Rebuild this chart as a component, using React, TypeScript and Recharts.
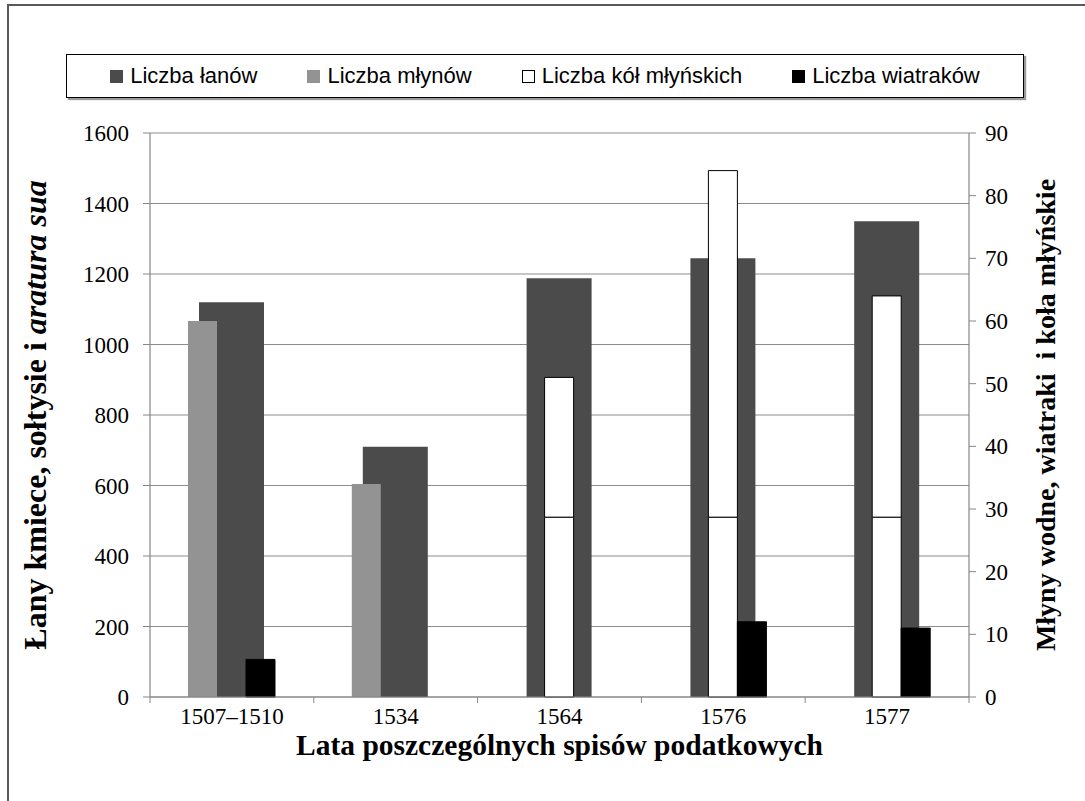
import React from 'react';
import { BarChart, Bar, XAxis, YAxis, CartesianGrid, Legend, Label } from 'recharts';

const lata = ['1507–1510', '1534', '1564', '1576', '1577'];
const lany = [1120, 710, 1188, 1245, 1350];
const mlyny = [60, 34, null, null, null];
const kolaDol = [null, null, 28.7, 28.7, 28.7];
const kolaGora = [null, null, 22.3, 55.3, 35.3];
const wiatraki = [6, null, null, 12, 11];

const nazwySerii = ['Liczba łanów', 'Liczba młynów', 'Liczba kół młyńskich', 'Liczba wiatraków'];
const lewyTicks = [0, 200, 400, 600, 800, 1000, 1200, 1400, 1600];
const prawyTicks = [0, 10, 20, 30, 40, 50, 60, 70, 80, 90];

const data = lata.map((rok, i) => ({
  rok,
  lany: lany[i],
  mlyny: mlyny[i],
  kolaDol: kolaDol[i],
  kolaGora: kolaGora[i],
  wiatraki: wiatraki[i],
}));

const SERIF = '"Liberation Serif", "Times New Roman", serif';
const SANS = '"Liberation Sans", Arial, sans-serif';
const OS = '#868686';

const TickX = (props: any) => {
  const { x, y, payload, index } = props;
  const pol = payload.offset ?? 0;
  return (
    <g>
      <line x1={x - pol} x2={x - pol} y1={y} y2={y + 6} stroke={OS} />
      {index === lata.length - 1 && <line x1={x + pol} x2={x + pol} y1={y} y2={y + 6} stroke={OS} />}
      <text x={x} y={y + 27} textAnchor="middle" fontFamily={SERIF} fontSize={23} fill="#000">
        {payload.value}
      </text>
    </g>
  );
};

const TytulLewy = ({ viewBox }: any) => {
  const cx = viewBox.x - 55;
  const cy = viewBox.y + viewBox.height / 2;
  return (
    <text x={cx} y={cy} transform={`rotate(-90, ${cx}, ${cy})`} textAnchor="middle" dominantBaseline="central"
      fontFamily={SERIF} fontWeight="bold" fontSize={32} fill="#000">
      Łany kmiece, sołtysie i{' '}
      <tspan fontStyle="italic">aratura sua</tspan>
    </text>
  );
};

const TytulPrawy = ({ viewBox }: any) => {
  const cx = viewBox.x + viewBox.width + 16;
  const cy = viewBox.y + viewBox.height / 2;
  return (
    <text x={cx} y={cy} transform={`rotate(-90, ${cx}, ${cy})`} textAnchor="middle" dominantBaseline="central"
      fontFamily={SERIF} fontWeight="bold" fontSize={28} fill="#000" style={{ whiteSpace: 'pre' }}>
      Młyny wodne, wiatraki  i koła młyńskie
    </text>
  );
};

const TytulDolny = ({ viewBox }: any) => (
  <text x={viewBox.x + viewBox.width / 2} y={viewBox.y + 48} textAnchor="middle" dominantBaseline="central"
    fontFamily={SERIF} fontWeight="bold" fontSize={29.5} fill="#000">
    Lata poszczególnych spisów podatkowych
  </text>
);

const Legenda = (props: any) => {
  const wpisy = (props.payload || [])
    .filter((e: any) => nazwySerii.includes(e.value))
    .sort((a: any, b: any) => nazwySerii.indexOf(a.value) - nazwySerii.indexOf(b.value));
  return (
    <div style={{ display: 'flex', justifyContent: 'center', alignItems: 'center', height: '100%', fontFamily: SANS, fontSize: 22, color: '#000', whiteSpace: 'nowrap' }}>
      {wpisy.map((e: any, i: number) => (
        <span key={e.value} style={{ display: 'flex', alignItems: 'center', marginLeft: i === 0 ? 0 : 50 }}>
          <span style={{ display: 'inline-block', width: 13, height: 13, boxSizing: 'border-box', background: e.color, border: e.color === '#ffffff' ? '1px solid #000' : 'none', marginRight: 7 }} />
          {e.value}
        </span>
      ))}
    </div>
  );
};

export default function App() {
  return (
    <div style={{ position: 'absolute', left: 0, top: 0, width: 1085, height: 801, overflow: 'hidden', background: '#fff' }}>
      <div style={{ position: 'absolute', left: 7, top: 4, width: 1120, height: 840, border: '2px solid #595959' }} />
      <BarChart width={1085} height={801} data={data} margin={{ top: 133, right: 56, bottom: 74, left: 90 }} barGap={0}>
        <CartesianGrid xAxisId="a" yAxisId="left" vertical={false} stroke="#8c8c8c" strokeWidth={1.2} />
        <XAxis xAxisId="a" dataKey="rok" type="category" height={30} axisLine={{ stroke: OS, strokeWidth: 1.2 }}
          tickLine={false} tickSize={0} tickMargin={0} tick={<TickX />} interval={0}>
          <Label content={<TytulDolny />} />
        </XAxis>
        <XAxis xAxisId="b" dataKey="rok" type="category" hide />
        <YAxis yAxisId="left" width={60} domain={[0, 1600]} ticks={lewyTicks} interval={0}
          axisLine={{ stroke: OS, strokeWidth: 1.2 }} tickLine={{ stroke: OS }} tickSize={7} tickMargin={14}
          tick={{ fill: '#000', fontFamily: SERIF, fontSize: 23 }}>
          <Label content={<TytulLewy />} />
        </YAxis>
        <YAxis yAxisId="right" orientation="right" width={60} domain={[0, 90]} ticks={prawyTicks} interval={0}
          axisLine={{ stroke: OS, strokeWidth: 1.2 }} tickLine={{ stroke: OS }} tickSize={7} tickMargin={9}
          tick={{ fill: '#000', fontFamily: SERIF, fontSize: 23 }}>
          <Label content={<TytulPrawy />} />
        </YAxis>
        <Legend verticalAlign="middle" align="center" content={<Legenda />}
          wrapperStyle={{ top: 54, left: 66, width: 958, height: 44, border: '1.5px solid #000', boxSizing: 'border-box', boxShadow: '2px 2px 1px #9a9a9a', background: '#fff' }} />
        <Bar xAxisId="a" yAxisId="left" dataKey="lany" name="Liczba łanów" fill="#4b4b4b" barSize={65} isAnimationActive={false} />
        <Bar xAxisId="b" yAxisId="right" dataKey="mlyny" stackId="m" name="Liczba młynów" fill="#939393" barSize={29} isAnimationActive={false} />
        <Bar xAxisId="b" yAxisId="right" dataKey="kolaDol" stackId="k" name="kola-dol" legendType="none" fill="#ffffff" stroke="#000" strokeWidth={1} barSize={29} isAnimationActive={false} />
        <Bar xAxisId="b" yAxisId="right" dataKey="kolaGora" stackId="k" name="Liczba kół młyńskich" fill="#ffffff" stroke="#000" strokeWidth={1} barSize={29} isAnimationActive={false} />
        <Bar xAxisId="b" yAxisId="right" dataKey="wiatraki" stackId="w" name="Liczba wiatraków" fill="#000000" stroke="#000" barSize={29} isAnimationActive={false} />
      </BarChart>
    </div>
  );
}
